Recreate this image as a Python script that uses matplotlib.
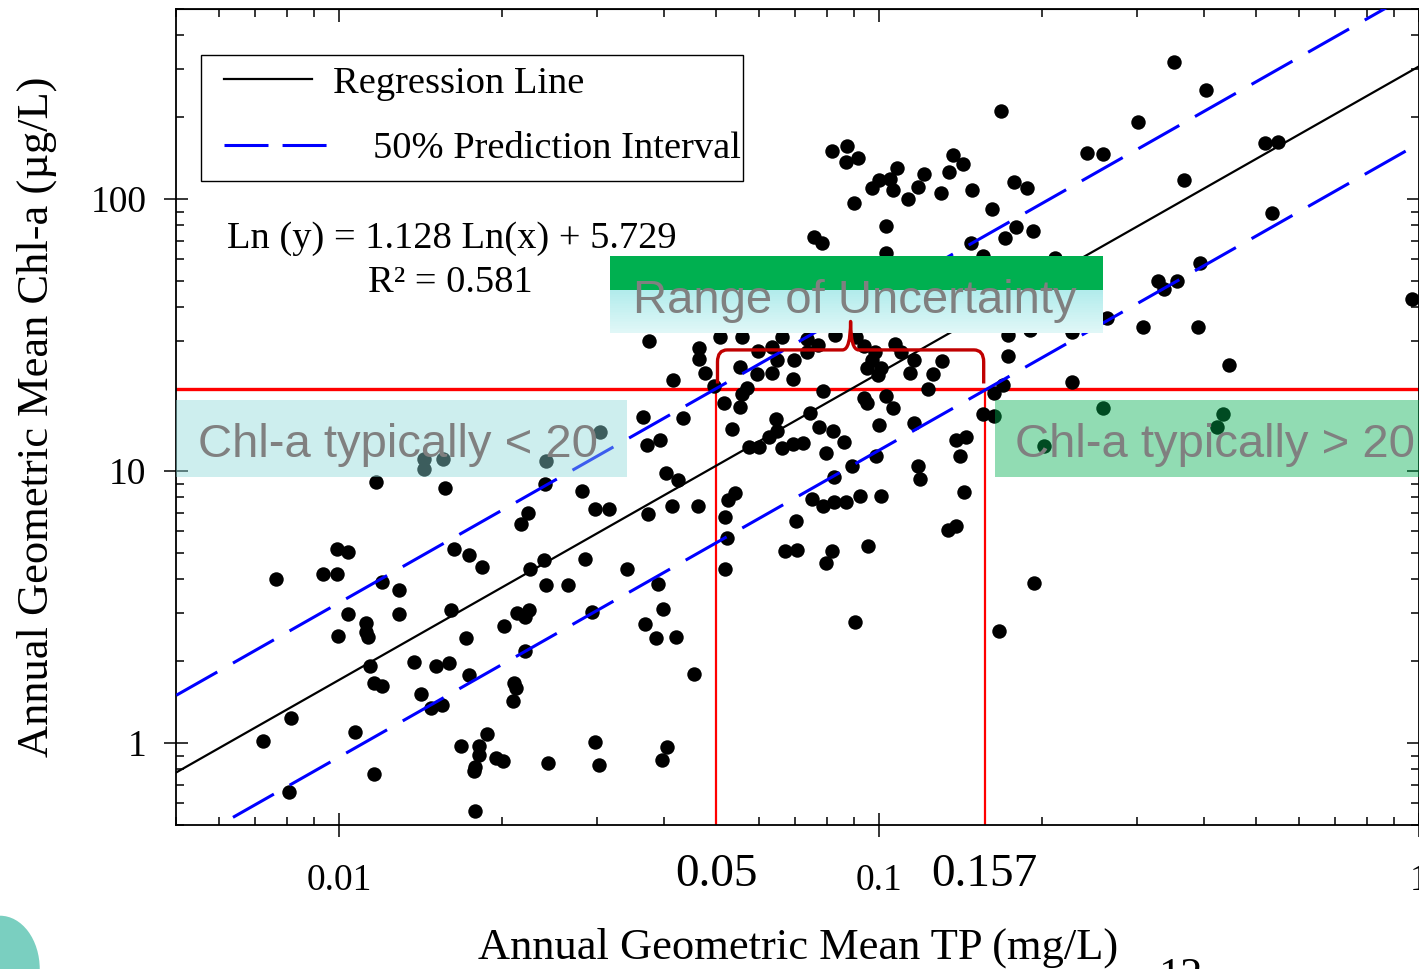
import numpy as np
import matplotlib
matplotlib.use('Agg')
import matplotlib.pyplot as plt
from matplotlib.patches import Rectangle, PathPatch, Ellipse
from matplotlib.path import Path
from matplotlib.ticker import NullFormatter

# 数据: annual geometric mean TP (mg/L) and Chl-a (ug/L)
tp = [0.00723, 0.00815, 0.00808, 0.00764, 0.00934, 0.00991, 0.00991, 0.0104, 0.00995, 0.0104,
      0.0112, 0.0112, 0.0113, 0.0114, 0.0116, 0.0120, 0.0107, 0.0116, 0.0117, 0.0120,
      0.0129, 0.0129, 0.0138, 0.0142, 0.0148, 0.0155, 0.0151, 0.0160, 0.0161, 0.0157,
      0.0163, 0.0174, 0.0184, 0.0172, 0.0174, 0.0168, 0.0182, 0.0188, 0.0182, 0.0179,
      0.0178, 0.0195, 0.0179, 0.0144, 0.0144, 0.0156, 0.0201, 0.0202, 0.0210, 0.0211,
      0.0213, 0.0214, 0.0217, 0.0224, 0.0221, 0.0225, 0.0221, 0.0226, 0.0240, 0.0241,
      0.0242, 0.0242, 0.0244, 0.0266, 0.0282, 0.0285, 0.0294, 0.0298, 0.0316, 0.0298,
      0.0303, 0.0304, 0.0341, 0.0366, 0.0372, 0.0393, 0.0375, 0.0415, 0.0434, 0.0403,
      0.0424, 0.0373, 0.0414, 0.0462, 0.0390, 0.0398, 0.0369, 0.0386, 0.0421, 0.0454,
      0.0405, 0.0396, 0.0464, 0.0464, 0.0476, 0.0495, 0.0508, 0.0558, 0.0516, 0.0553,
      0.0570, 0.0558, 0.0534, 0.0553, 0.0597, 0.0594, 0.0634, 0.0634, 0.0647, 0.0661,
      0.0696, 0.0693, 0.0645, 0.0647, 0.0626, 0.0574, 0.0599, 0.0661, 0.0693, 0.0525,
      0.0541, 0.0519, 0.0523, 0.0519, 0.0702, 0.0670, 0.0705, 0.0723, 0.0736, 0.0736,
      0.0771, 0.0829, 0.0906, 0.0745, 0.0774, 0.0822, 0.0861, 0.0798, 0.0787, 0.0891,
      0.0825, 0.0751, 0.0787, 0.0825, 0.0869, 0.0922, 0.101, 0.0818, 0.0798, 0.0954,
      0.0903, 0.0987, 0.0938, 0.0950, 0.103, 0.106, 0.100, 0.0938, 0.0983, 0.0970,
      0.0950, 0.0996, 0.101, 0.107, 0.0818, 0.0872, 0.0869, 0.0914, 0.0899, 0.0970,
      0.100, 0.105, 0.108, 0.106, 0.103, 0.103, 0.0758, 0.0784, 0.110, 0.116,
      0.114, 0.126, 0.131, 0.123, 0.116, 0.118, 0.119, 0.139, 0.145, 0.141,
      0.144, 0.134, 0.139, 0.156, 0.163, 0.163, 0.113, 0.118, 0.121, 0.130,
      0.135, 0.137, 0.143, 0.149, 0.162, 0.148, 0.156, 0.167, 0.168, 0.178,
      0.188, 0.179, 0.193, 0.171, 0.173, 0.190, 0.173, 0.170, 0.194, 0.202,
      0.212, 0.228, 0.228, 0.243, 0.260, 0.260, 0.264, 0.302, 0.308, 0.329,
      0.337, 0.356, 0.352, 0.367, 0.393, 0.390, 0.403, 0.445, 0.434, 0.423,
      0.519, 0.548, 0.534, 0.971]
chl = [1.02, 1.24, 0.660, 4.01, 4.19, 4.19, 5.17, 5.03, 2.47, 2.98,
       2.76, 2.56, 2.45, 1.92, 1.66, 1.62, 1.10, 0.769, 9.11, 3.90,
       3.65, 2.98, 1.99, 1.52, 1.35, 1.38, 1.92, 1.97, 3.08, 8.66,
       5.17, 4.91, 4.44, 2.43, 1.78, 0.979, 0.979, 1.08, 0.903, 0.815,
       0.788, 0.880, 0.562, 10.2, 11.1, 11.1, 0.858, 2.69, 1.43, 1.66,
       1.60, 3.00, 6.38, 7.01, 2.90, 3.08, 2.18, 4.36, 4.71, 8.96,
       3.81, 10.9, 0.843, 3.81, 8.45, 4.74, 3.03, 7.25, 7.25, 1.01,
       0.829, 13.9, 4.36, 15.8, 12.5, 13.0, 30.1, 21.6, 15.7, 9.84,
       9.27, 6.95, 7.43, 7.43, 3.84, 3.11, 2.74, 2.43, 2.45, 1.80,
       0.971, 0.865, 28.3, 25.8, 22.9, 20.5, 31.1, 31.1, 17.8, 17.2,
       20.2, 19.2, 14.3, 24.1, 27.6, 22.7, 22.9, 28.6, 25.6, 31.1,
       25.6, 21.8, 15.5, 14.0, 13.3, 12.3, 12.3, 12.2, 12.6, 7.82,
       8.31, 6.78, 5.67, 4.36, 6.54, 5.08, 5.12, 12.7, 30.6, 27.4,
       29.1, 31.6, 31.1, 16.3, 14.5, 14.0, 12.8, 11.7, 19.7, 10.4,
       9.51, 7.90, 7.43, 7.69, 7.69, 8.10, 8.10, 5.08, 4.59, 5.30,
       2.78, 11.4, 18.6, 17.8, 18.9, 17.1, 14.8, 28.8, 27.4, 25.6,
       23.9, 22.6, 23.9, 29.3, 150, 157, 137, 142, 96.7, 110,
       118, 119, 130, 108, 79.6, 63.3, 72.5, 68.9, 27.4, 25.6,
       22.9, 22.7, 25.4, 20.0, 15.0, 10.4, 9.35, 13.0, 13.3, 11.4,
       8.38, 6.07, 6.27, 16.2, 15.9, 19.4, 100, 111, 124, 105,
       126, 145, 135, 108, 91.9, 68.9, 61.7, 2.58, 211, 116,
       110, 78.9, 76.3, 71.9, 31.6, 33.0, 26.5, 20.7, 3.87, 12.4,
       60.7, 32.4, 21.3, 148, 146, 17.1, 36.5, 192, 33.9, 50.0,
       46.7, 50.0, 319, 118, 58.2, 33.9, 252, 24.5, 16.2, 14.5,
       161, 162, 88.8, 42.9]

# 回归参数
slope, intercept = 1.128, 5.729
r2 = 0.581
pi_half = 0.653      # half width of the 50 % prediction band (ln units)
chl_limit = 20
tp_low, tp_high = 0.05, 0.157

plt.rcParams['font.family'] = ['Liberation Serif', 'DejaVu Serif']
fig = plt.figure(figsize=(14.19, 9.69), dpi=100)
ax = fig.add_axes([0.1243, 0.1486, 0.8757, 0.8421])
ax.set_xscale('log')
ax.set_yscale('log')

# 散点
ax.plot(tp, chl, 'o', color='black', markersize=10.4, markeredgewidth=0, zorder=3)

# 回归线 + 50% 预测区间
xs = np.logspace(np.log10(0.005), 0, 200)
fit = np.exp(slope * np.log(xs) + intercept)
ax.plot(xs, fit, color='black', lw=1.6, zorder=4)
for k in (1, -1):
    ax.plot(xs, fit * np.exp(k * pi_half), color='#0000FF', lw=2.2, dashes=(15.4, 5.9), zorder=4)

# 红色阈值线
ax.axhline(chl_limit, color='red', lw=2.4, zorder=2)
ax.vlines([tp_low, tp_high], 0.5, chl_limit, color='red', lw=1.6, zorder=2)

# 半透明标注框
ax.add_patch(Rectangle((0, 0.4265), 0.363, 0.0943, transform=ax.transAxes,
                       facecolor=(0.55, 0.85, 0.85), alpha=0.43, edgecolor='none', zorder=5))
ax.add_patch(Rectangle((0.6588, 0.4265), 0.3412, 0.0943, transform=ax.transAxes,
                       facecolor='#00B050', alpha=0.43, edgecolor='none', zorder=5))
ax.text(0.0174, 0.451, 'Chl-a typically < 20', transform=ax.transAxes, fontsize=34,
        color='#808080', family='Liberation Sans', va='baseline', zorder=6)
ax.text(0.6748, 0.451, 'Chl-a typically > 20', transform=ax.transAxes, fontsize=34,
        color='#808080', family='Liberation Sans', va='baseline', zorder=6)

# Range of Uncertainty 框 (上绿下渐变)
bx0, bw, by0, bh = 0.349, 0.3967, 0.6029, 0.0944
green_h = 0.0417
ax.add_patch(Rectangle((bx0, by0 + bh - green_h), bw, green_h, transform=ax.transAxes,
                       facecolor='#00B050', edgecolor='none', zorder=10))
n = 24
cyan_h = bh - green_h
top_c = np.array([178, 236, 236]) / 255
bot_c = np.array([224, 247, 247]) / 255
for i in range(n):
    t = i / (n - 1)
    ax.add_patch(Rectangle((bx0, by0 + i * cyan_h / n), bw, cyan_h / n + 0.0005,
                           transform=ax.transAxes, facecolor=bot_c + (top_c - bot_c) * t,
                           edgecolor='none', zorder=10))
ax.text(0.5461, 0.6275, 'Range of Uncertainty', transform=ax.transAxes, fontsize=34,
        color='#808080', family='Liberation Sans', ha='center', va='baseline', zorder=12)

# 花括号
lx0, lx1 = np.log10(tp_low) + 0.002, np.log10(tp_high) - 0.002
lxm = (lx0 + lx1) / 2
ly_end, ly_corner, ly_h, ly_peak = np.log10(21), np.log10(25.2), np.log10(27.9), np.log10(35.5)
verts = [(lx0, ly_end), (lx0, ly_corner), (lx0, ly_h), (lx0 + 0.018, ly_h),
         (lxm - 0.015, ly_h), (lxm, ly_h), (lxm, ly_peak), (lxm, ly_h), (lxm + 0.015, ly_h),
         (lx1 - 0.018, ly_h), (lx1, ly_h), (lx1, ly_corner), (lx1, ly_end)]
codes = [Path.MOVETO, Path.LINETO, Path.CURVE3, Path.CURVE3, Path.LINETO, Path.CURVE3,
         Path.CURVE3, Path.CURVE3, Path.CURVE3, Path.LINETO, Path.CURVE3, Path.CURVE3, Path.LINETO]
brace = Path(10 ** np.array(verts), codes)
ax.add_patch(PathPatch(brace, fill=False, edgecolor='#C00000', lw=2.4, zorder=13,
                       capstyle='butt', joinstyle='round'))

# 图例 (手工绘制)
ax.add_patch(Rectangle((0.0198, 0.7892), 0.4362, 0.1544, transform=ax.transAxes,
                       facecolor='white', edgecolor='black', lw=1.0, zorder=7))
ax.plot([0.0383, 0.1091], [0.9142, 0.9142], transform=ax.transAxes, color='black', lw=1.6, zorder=8)
ax.plot([0.0383, 0.1211], [0.8333, 0.8333], transform=ax.transAxes, color='#0000FF', lw=2.2,
        dashes=(14.4, 4.6), zorder=8)
ax.text(0.1260, 0.8971, 'Regression Line', transform=ax.transAxes, fontsize=27.7, va='baseline', zorder=8)
ax.text(0.1582, 0.8174, '50% Prediction Interval', transform=ax.transAxes, fontsize=27.7,
        va='baseline', zorder=8)

# 回归方程
ax.text(0.0407, 0.7071, f'Ln (y) = {slope} Ln(x) + {intercept}', transform=ax.transAxes,
        fontsize=27.7, va='baseline', zorder=8)
ax.text(0.1542, 0.6532, f'R\u00b2 = {r2}', transform=ax.transAxes, fontsize=27.7,
        va='baseline', zorder=8)

# 坐标轴
ax.set_xlim(0.005, 1.0)
ax.set_ylim(0.5, 500)
ax.set_xticks([0.01, 0.1, 1], ['0.01', '0.1', '1'])
ax.set_yticks([1, 10, 100], ['1', '10', '100'])
ax.xaxis.set_minor_formatter(NullFormatter())
ax.yaxis.set_minor_formatter(NullFormatter())
ax.tick_params(which='major', direction='inout', length=17, width=1.1, labelsize=27)
ax.tick_params(axis='x', which='major', pad=19)
ax.tick_params(axis='y', which='major', pad=13)
ax.tick_params(which='minor', direction='in', length=6, width=1.1)
for sp in ax.spines.values():
    sp.set_linewidth(1.3)

secx = ax.secondary_xaxis('top')
secy = ax.secondary_yaxis('right')
for sec, axis in ((secx, secx.xaxis), (secy, secy.yaxis)):
    sec.tick_params(which='major', direction='in', length=9, width=1.1)
    sec.tick_params(which='minor', direction='in', length=6, width=1.1)
    axis.set_major_formatter(NullFormatter())
    axis.set_minor_formatter(NullFormatter())

for val, lab in ((tp_low, '0.05'), (tp_high, '0.157')):
    ax.text(val, -0.0748, lab, transform=ax.get_xaxis_transform(), ha='center', va='baseline',
            fontsize=34, clip_on=False)

ax.set_xlabel('Annual Geometric Mean TP (mg/L)', fontsize=32)
ax.set_ylabel('Annual Geometric Mean Chl-a (\u00b5g/L)', fontsize=32)
ax.xaxis.set_label_coords(0.5, -0.126)
ax.yaxis.set_label_coords(-0.0961, 0.5)

# 页码和角落图标 (原图中也被裁切)
fig.text(1180 / 1419, -0.0196, '12', fontsize=32, ha='center', va='baseline')
fig.add_artist(Ellipse((0.0, 0.0), 0.056, 0.11, transform=fig.transFigure,
                       facecolor='#7ACFC0', edgecolor='none'))

fig.savefig('out.png', dpi=100)
